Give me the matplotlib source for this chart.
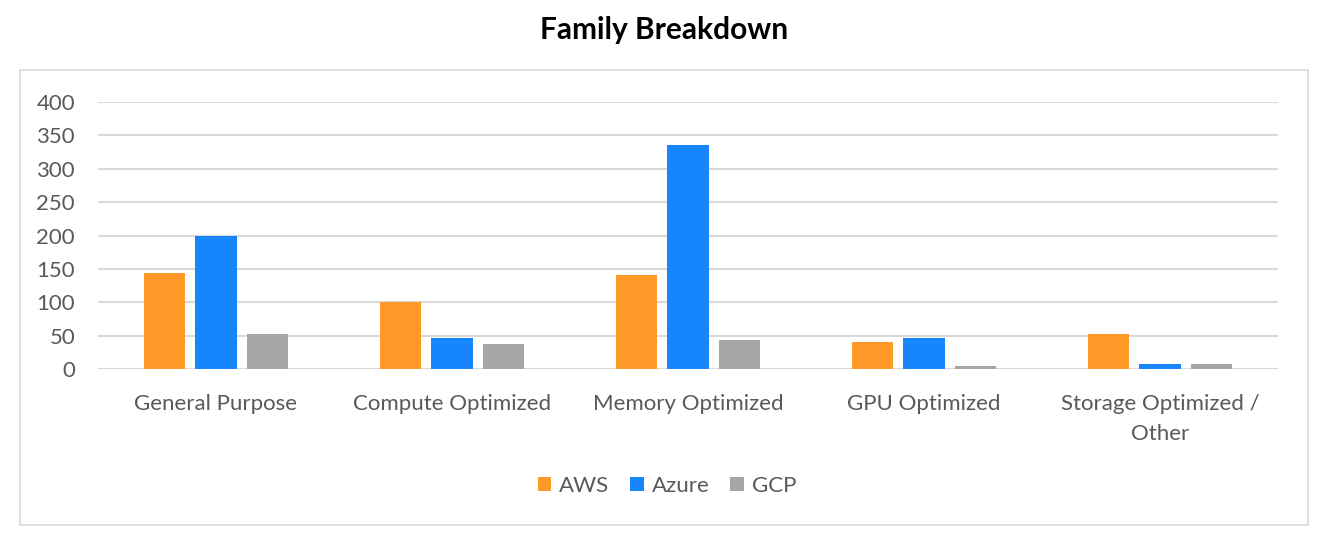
import matplotlib.pyplot as plt
import matplotlib.patches as patches
import numpy as np

categories = ['General Purpose', 'Compute Optimized', 'Memory Optimized', 'GPU Optimized', 'Storage Optimized /\nOther']
aws = [144, 101, 141, 41, 53]
azure = [199, 47, 336, 47, 8]
gcp = [53, 38, 44, 4, 8]

plt.rcParams['font.family'] = ['Lato', 'DejaVu Sans']

fig = plt.figure(figsize=(13.28, 5.46), dpi=100)
ax = fig.add_axes([98/1328, 177/546, 1180/1328, 267/546])

# outer chart border
fig.patches.append(patches.Rectangle((20/1328, 21/546), 1288/1328, 455/546,
                                     transform=fig.transFigure, fill=False,
                                     edgecolor='#d9d9d9', linewidth=1.2))

x = np.arange(len(categories))
w = 0.174
step = 0.22
ax.bar(x - step, aws, w, color='#ff9a28', label='AWS', zorder=3)
ax.bar(x, azure, w, color='#1785fb', label='Azure', zorder=3)
ax.bar(x + step, gcp, w, color='#a6a6a6', label='GCP', zorder=3)

ax.set_xlim(-0.5, len(categories) - 0.5)
ax.set_ylim(0, 400)
ax.set_yticks(range(0, 401, 50))
ax.yaxis.grid(True, color='#d9d9d9', linewidth=1.5, zorder=0)
for s in ax.spines.values():
    s.set_visible(False)
ax.tick_params(axis='both', length=0, labelsize=16, colors='#595959')
ax.tick_params(axis='y', pad=16.5)
ax.tick_params(axis='x', pad=18)
ax.set_xticks(x)
ax.set_xticklabels(categories, linespacing=1.6)

fig.text(0.5, 1 - 30/546, 'Family Breakdown', ha='center', va='center',
         fontsize=21.5, fontweight='bold', color='black')

leg = fig.legend(loc='center', bbox_to_anchor=(667/1328, 1 - 486/546), ncol=3,
                 frameon=False, fontsize=16, handlelength=0.6, handleheight=0.6,
                 handletextpad=0.35, columnspacing=0.95)
for t in leg.get_texts():
    t.set_color('#595959')

fig.savefig('out.png', dpi=100)
